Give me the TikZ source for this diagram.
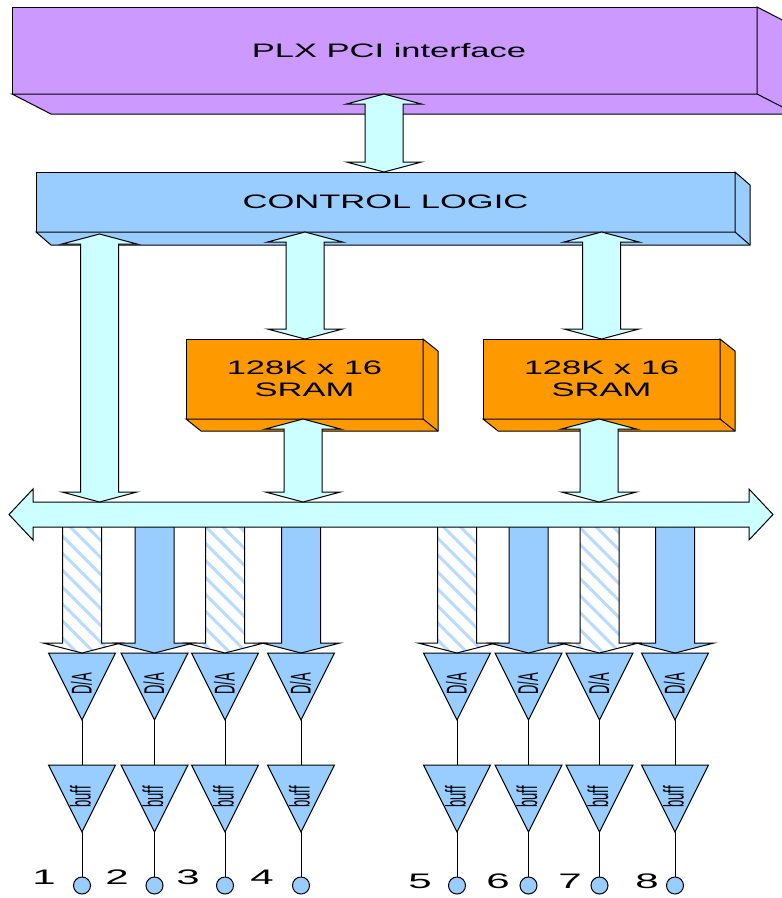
\documentclass[tikz,border=0pt]{standalone}
\usepackage{graphicx}
\usepackage{fontspec}
\setmainfont{Liberation Sans}
\usetikzlibrary{calc,shapes.geometric,patterns.meta}
\definecolor{plxpurple}{HTML}{CC99FF}
\definecolor{boxblue}{HTML}{99CCFF}
\definecolor{sramorange}{HTML}{FF9900}
\definecolor{buscyan}{HTML}{CCFFFF}
\tikzset{
  boxlabel/.style={draw, line width=1pt, inner sep=0pt, outer sep=0pt, anchor=north west, font=\fontsize{19.5}{22}\selectfont, align=center},
  busline/.style={draw, line width=1pt, line join=miter, fill=buscyan},
  solidbus/.style={draw, line width=1pt, fill=boxblue},
  hatchbus/.style={draw, line width=1pt, preaction={fill=white}, pattern={Lines[angle=-45,distance=12pt,line width=3pt]}, pattern color=boxblue!70},
  amptri/.style={draw, line width=1pt, fill=boxblue, isosceles triangle, isosceles triangle stretches, shape border rotate=270, minimum width=67pt, minimum height=67pt, inner sep=0pt, outer sep=0pt, anchor=lower side},
  amptext/.style={rotate=90, inner sep=0pt, font=\fontsize{13}{14}\selectfont},
  pinwire/.style={line width=1pt},
  pindot/.style={circle, draw, line width=1pt, fill=boxblue, minimum size=17pt, inner sep=0pt},
  chnum/.style={inner sep=0pt, font=\fontsize{21}{22}\selectfont}
}
\def\widetxt#1{\scalebox{1.77}[1]{#1}}
% side and bottom faces of a block
\def\blockdepth(#1,#2,#3,#4){
  \draw[line width=1pt, fill=#4] (#1.north east) -- ++(#2,#3) -- ($(#1.south east)+(#2,#3)$) -- ($(#1.south west)+(#2,#3)$) -- (#1.south west) -- (#1.south east) -- cycle;
  \draw[line width=1pt] (#1.south east) -- ++(#2,#3);
}
% vertical two headed bus
\def\vbus(#1,#2){
  \path[busline] (#1) -- ($(#1)+(37.5,10)$) -- ($(#1)+(19,10)$) -- ($(#2)+(19,-10)$) -- ($(#2)+(37.5,-10)$) -- (#2) -- ($(#2)+(-37.5,-10)$) -- ($(#2)+(-19,-10)$) -- ($(#1)+(-19,10)$) -- ($(#1)+(-37.5,10)$) -- cycle;
}
% one output: arrow from the bus, D/A, buffer, pin, number
\def\dacchan(#1,#2,#3,#4,#5){
  \coordinate (bus_ch#1) at (#2,527);
  \node[amptri] (dac#1) at (#2,653) {};
  \node[amptri] (buf#1) at (#2,765) {};
  \node[pindot] (pin#1) at (#2,885.5) {};
  \path[#3] ($(bus_ch#1)+(-19.5,0)$) -- ($(dac#1.lower side)+(-19.5,-10)$) -- ($(dac#1.lower side)+(-39,-10)$) -- (dac#1.lower side) -- ($(dac#1.lower side)+(39,-10)$) -- ($(dac#1.lower side)+(19.5,-10)$) -- ($(bus_ch#1)+(19.5,0)$);
  \node[amptext] (dac#1_txt) at ($(dac#1.lower side)+(-0.5,31)$) {\scalebox{1}[2.2]{D/A}};
  \node[amptext] (buf#1_txt) at ($(buf#1.lower side)+(-1.5,32)$) {\scalebox{1}[2.2]{buff}};
  \draw[pinwire] (dac#1.apex) -- (buf#1.lower side);
  \draw[pinwire] (buf#1.apex) -- (pin#1);
  \node[chnum] (num#1) at (#4,#5) {\scalebox{2}[1]{#1}};
}
\begin{document}
\begin{tikzpicture}[x=1pt,y=-1pt]
\clip (0,0) rectangle (782,898);
\node[boxlabel, fill=plxpurple, minimum width=745pt, minimum height=87pt] (plx) at (12,7) {\hspace*{9pt}\widetxt{PLX PCI interface}};
\blockdepth(plx,39,20,plxpurple)
\node[boxlabel, fill=boxblue, minimum width=699pt, minimum height=60pt] (ctrl) at (36,172) {\widetxt{CONTROL LOGIC}};
\blockdepth(ctrl,15,13,boxblue)
\node[boxlabel, fill=sramorange, minimum width=237pt, minimum height=80pt] (sram1) at (186,339) {\widetxt{128K x 16}\\\widetxt{SRAM}};
\blockdepth(sram1,15,12,sramorange)
\node[boxlabel, fill=sramorange, minimum width=237pt, minimum height=80pt] (sram2) at (483,339) {\widetxt{128K x 16}\\\widetxt{SRAM}};
\blockdepth(sram2,15,12,sramorange)
% outputs
\dacchan(1,82,hatchbus,44,877)
\dacchan(2,154.5,solidbus,117,877)
\dacchan(3,225,hatchbus,188,877)
\dacchan(4,301,solidbus,262,877)
\dacchan(5,457,hatchbus,420,881)
\dacchan(6,528.5,solidbus,498,881)
\dacchan(7,599.5,hatchbus,570,881)
\dacchan(8,675,solidbus,647,881)
% main bus
\coordinate (bus_l) at (9,514.5);
\coordinate (bus_r) at (773,514.5);
\path[busline] (bus_l) -- ++(24,-25.5) -- ++(0,13) -- ($(bus_r)+(-24,-12.5)$) -- ++(0,-13) -- (bus_r) -- ++(-24,25.5) -- ++(0,-13) -- ($(bus_l)+(24,12.5)$) -- ++(0,13) -- cycle;
% links
\coordinate (plx_b) at (plx.south -| 384,0);
\coordinate (ctrl_t) at (ctrl.north -| 384,0);
\vbus(plx_b,ctrl_t)
\coordinate (ctrl_a) at ($(ctrl.south -| 99.5,0)+(0,2)$);
\coordinate (bus_a) at (99.5,502);
\vbus(ctrl_a,bus_a)
\coordinate (ctrl_b) at (ctrl.south -| 305,0);
\coordinate (sram1_t) at (sram1.north -| 305,0);
\vbus(ctrl_b,sram1_t)
\coordinate (ctrl_c) at (ctrl.south -| 601.5,0);
\coordinate (sram2_t) at (sram2.north -| 601.5,0);
\vbus(ctrl_c,sram2_t)
\coordinate (sram1_b) at (sram1.south -| 303,0);
\coordinate (bus_b) at (303,502);
\vbus(sram1_b,bus_b)
\coordinate (sram2_b) at (sram2.south -| 599,0);
\coordinate (bus_c) at (599,502);
\vbus(sram2_b,bus_c)
\end{tikzpicture}
\end{document}
